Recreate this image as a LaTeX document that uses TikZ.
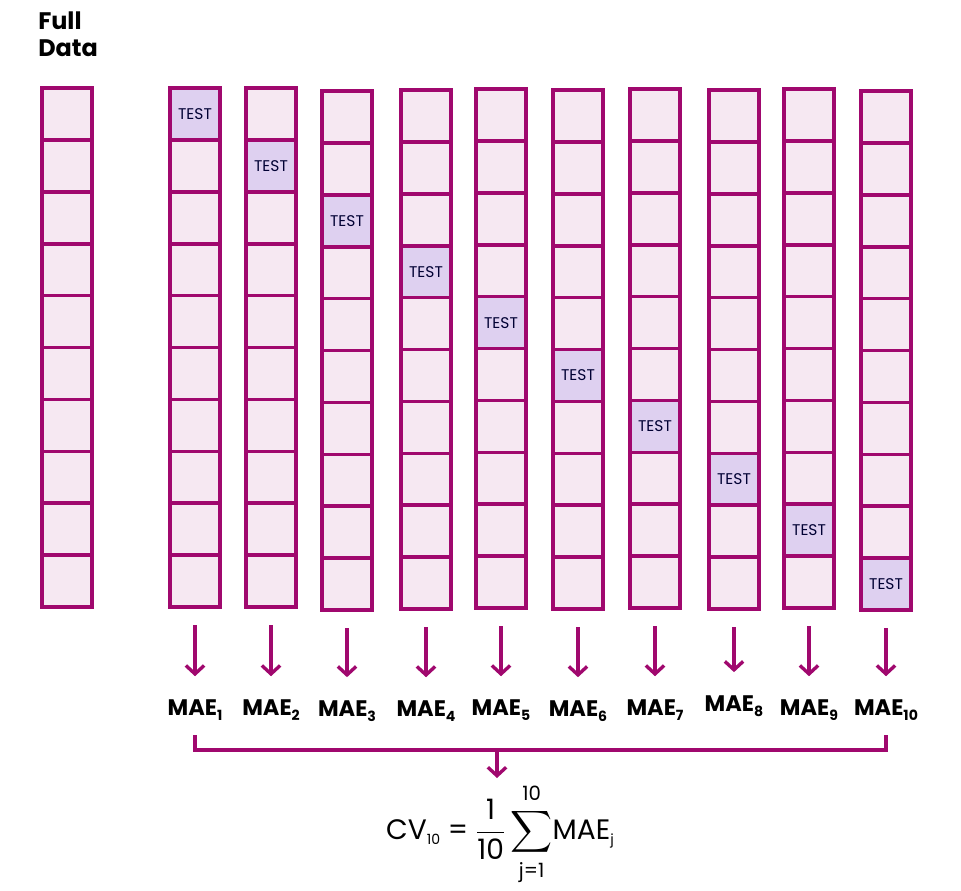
\documentclass[tikz,border=0pt]{standalone}
\usepackage{amsmath}
\usepackage{fontspec}
\setmainfont{Poppins}
\usetikzlibrary{arrows.meta, positioning, calc}
\definecolor{mymagenta}{RGB}{160,8,110}
\definecolor{mypink}{RGB}{246,232,242}
\definecolor{mylilac}{RGB}{222,208,240}
\newcommand{\maesub}[1]{\raisebox{-0.35ex}{\fontsize{10}{10}\selectfont #1}}
\tikzset{
  cell/.style={draw=mymagenta, fill=mypink, line width=2.6pt,
               minimum width=1.25cm, minimum height=1.2975cm,
               inner sep=0pt, outer sep=0pt},
  testcell/.style={cell, fill=mylilac, font=\fontsize{11}{12}\selectfont, text=black!80!blue},
  mae/.style={font=\fontsize{16}{18}\selectfont\bfseries, inner sep=1pt},
  arr/.style={-{Straight Barb[length=6pt, width=13pt]}, draw=mymagenta, line width=2.4pt},
  brk/.style={draw=mymagenta, line width=2.4pt},
}

\begin{document}
\begin{tikzpicture}[x=0.025cm, y=-0.025cm]
    \useasboundingbox (0,0) rectangle (961,890);

    \node[font=\fontsize{17}{19}\selectfont\bfseries, align=left, anchor=north west, inner sep=0pt] (full) at (38,12) {Full\\Data};

    % columns of folds
    \foreach \c/\x/\y in {0/42/88, 1/170/88, 2/246/88, 3/322/91, 4/401/90, 5/476/89,
                          6/553/90, 7/630/89, 8/709/90, 9/784/89, 10/861/91}{
      \foreach \r in {1,...,10}{
        \ifnum\r=\c \def\sty{testcell}\def\txt{TEST}\else \def\sty{cell}\def\txt{}\fi
        \node[\sty] (c\c-\r) at ({\x+25},{\y+26+51.9*(\r-1)}) {\txt};
      }
    }

    % errors of each fold
    \foreach \c/\yy in {1/710, 2/710, 3/711, 4/711, 5/710, 6/711, 7/710, 8/706, 9/710, 10/710}{
      \node[mae] (mae\c) at (c\c-10.south |- 0,\yy) {MAE\maesub{\c}};
      \draw[arr, shorten <=18*0.025cm, shorten >=22*0.025cm] (c\c-10.south) -- (c\c-10.south |- mae\c.north);
    }

    % averaging
    \coordinate (bl) at (c1-10.south |- 0,735);
    \coordinate (br) at (c10-10.south |- 0,735);
    \coordinate (bm) at (497,750);
    \draw[brk] (bl) -- ++(0,15) -| (br);
    \node[font=\fontsize{20}{22}\selectfont, inner sep=0pt] (cv) at (500,834)
      {CV\maesub{10} = $\displaystyle\frac{\text{1}}{\text{10}}\sum_{\text{j=1}\rule{0pt}{12pt}}^{\rule[-4pt]{0pt}{4pt}\text{10}}$MAE\maesub{j}};
    \draw[arr] (bm) -- ++(0,28);
\end{tikzpicture}
\end{document}
